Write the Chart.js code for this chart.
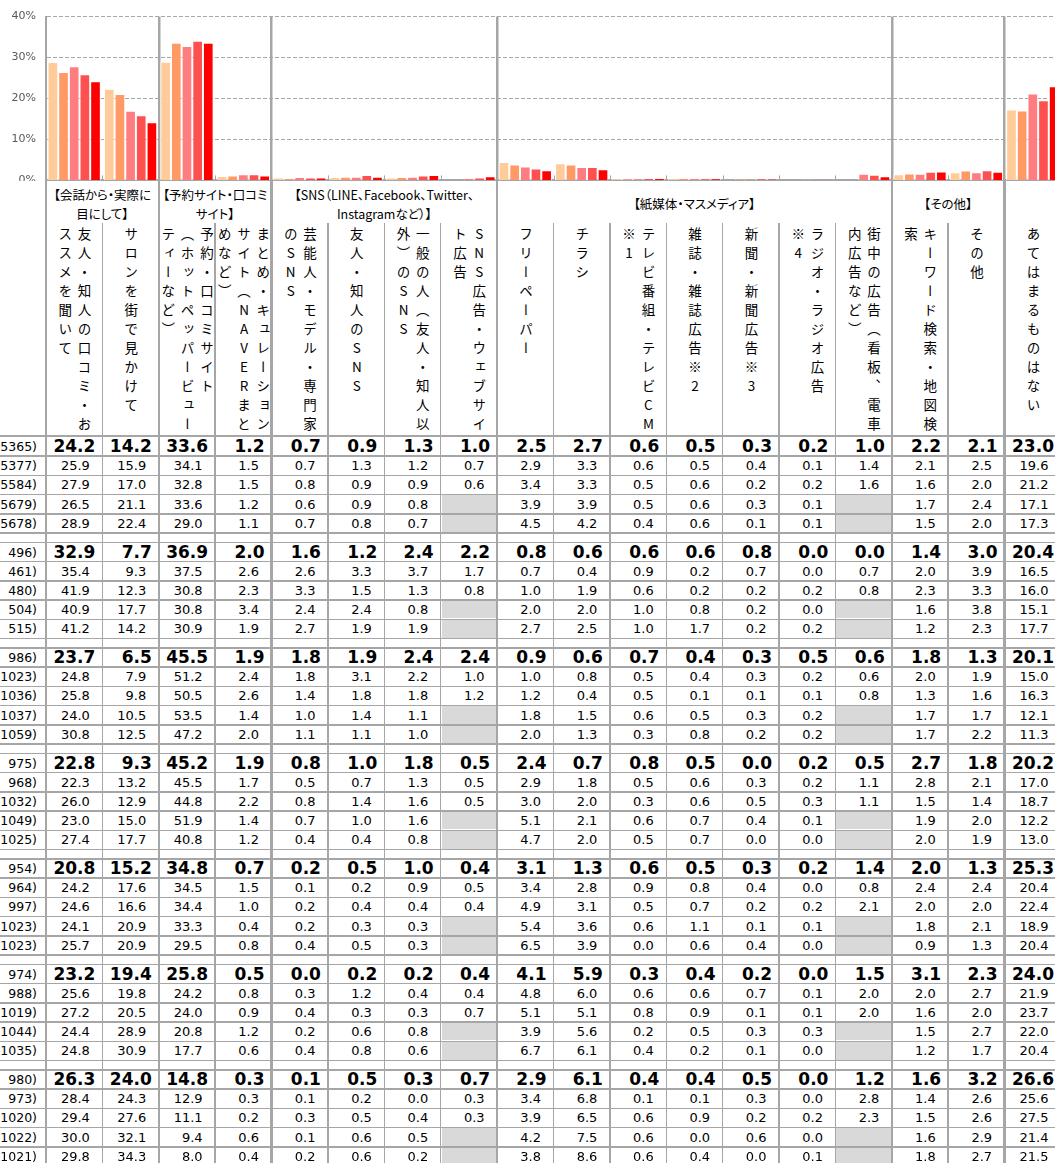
<!DOCTYPE html>
<html>
<head>
<meta charset="utf-8">
<script src="https://cdn.jsdelivr.net/npm/chart.js@4.4.0/dist/chart.umd.min.js"></script>
<style>
html,body{margin:0;padding:0;background:#fff;overflow:hidden;width:1055px;height:1163px;}
#chartWrap{position:absolute;left:0;top:0;}
#tbl{position:absolute;left:0;top:0;width:1070px;height:1163px;pointer-events:none;}
#tbl div{position:absolute;}
.ln{background:#A6A6A6;}
.gray{background:#D9D9D9;}
.vt{writing-mode:vertical-rl;text-orientation:upright;white-space:pre;font-family:"Noto Sans CJK JP";font-size:13.5px;line-height:19.3px;letter-spacing:5.5px;color:#000;transform:translateX(-50%);}
.gh{font-family:"Noto Sans CJK JP";font-size:12.5px;line-height:19px;color:#000;text-align:center;white-space:pre;font-feature-settings:"palt";}
.num{font-family:"DejaVu Sans";font-size:13px;color:#000;text-align:right;white-space:nowrap;}
.num.b{font-weight:bold;font-size:17px;}
.lab{font-family:"DejaVu Sans";font-size:12.5px;color:#000;text-align:right;white-space:pre;}
</style>
</head>
<body>
<div id="chartWrap"><canvas id="c" width="1062" height="197"></canvas></div>
<div id="tbl"></div>
<script>
// ---------- categories ----------
const categories = [
  '友人・知人の口コミ・おススメを聞いて','サロンを街で見かけて',
  '予約・口コミサイト（ホットペッパービューティーなど）','まとめ・キュレーションサイト（NAVERまとめなど）',
  '芸能人・モデル・専門家のSNS','友人・知人のSNS','一般の人（友人・知人以外）のSNS','SNS広告・ウェブサイト広告',
  'フリーペーパー','チラシ','テレビ番組・テレビCM※1','雑誌・雑誌広告※2','新聞・新聞広告※3','ラジオ・ラジオ広告※4',
  '街中の広告（看板、電車内広告など）','キーワード検索・地図検索','その他','あてはまるものはない'
];
// header text as displayed (vertical columns, right to left)
const headerColumns = [
  ['友人・知人の口コミ・お','ススメを聞いて'],
  ['サロンを街で見かけて'],
  ['予約・口コミサイト','（ホットペッパービュー','ティーなど）'],
  ['まとめ・キュレーション','サイト（NAVERまと','めなど）'],
  ['芸能人・モデル・専門家','のSNS'],
  ['友人・知人のSNS'],
  ['一般の人（友人・知人以','外）のSNS'],
  ['SNS広告・ウェブサイ','ト広告'],
  ['フリーペーパー'],
  ['チラシ'],
  ['テレビ番組・テレビCM','※1'],
  ['雑誌・雑誌広告※2'],
  ['新聞・新聞広告※3'],
  ['ラジオ・ラジオ広告','※4'],
  ['街中の広告（看板、電車','内広告など）'],
  ['キーワード検索・地図検','索'],
  ['その他'],
  ['あてはまるものはない']
];
const groupNames = [
  '【会話から・実際に\n目にして】',
  '【予約サイト・口コミ\nサイト】',
  '【SNS（LINE、Facebook、Twitter、\nInstagramなど）】',
  '【紙媒体・マスメディア】',
  '【その他】',
  ''
];
const groupStarts = [0,2,4,8,15,17,18];

// ---------- table data (7 blocks x 5 rows) ----------
const nA = [5365,5377,5584,5679,5678];
const rowsA = [
  [24.2,14.2,33.6,1.2,0.7,0.9,1.3,1.0,2.5,2.7,0.6,0.5,0.3,0.2,1.0,2.2,2.1,23.0],
  [25.9,15.9,34.1,1.5,0.7,1.3,1.2,0.7,2.9,3.3,0.6,0.5,0.4,0.1,1.4,2.1,2.5,19.6],
  [27.9,17.0,32.8,1.5,0.8,0.9,0.9,0.6,3.4,3.3,0.5,0.6,0.2,0.2,1.6,1.6,2.0,21.2],
  [26.5,21.1,33.6,1.2,0.6,0.9,0.8,null,3.9,3.9,0.5,0.6,0.3,0.1,null,1.7,2.4,17.1],
  [28.9,22.4,29.0,1.1,0.7,0.8,0.7,null,4.5,4.2,0.4,0.6,0.1,0.1,null,1.5,2.0,17.3]
];
const nB = [496,461,480,504,515];
const rowsB = [
  [32.9,7.7,36.9,2.0,1.6,1.2,2.4,2.2,0.8,0.6,0.6,0.6,0.8,0.0,0.0,1.4,3.0,20.4],
  [35.4,9.3,37.5,2.6,2.6,3.3,3.7,1.7,0.7,0.4,0.9,0.2,0.7,0.0,0.7,2.0,3.9,16.5],
  [41.9,12.3,30.8,2.3,3.3,1.5,1.3,0.8,1.0,1.9,0.6,0.2,0.2,0.2,0.8,2.3,3.3,16.0],
  [40.9,17.7,30.8,3.4,2.4,2.4,0.8,null,2.0,2.0,1.0,0.8,0.2,0.0,null,1.6,3.8,15.1],
  [41.2,14.2,30.9,1.9,2.7,1.9,1.9,null,2.7,2.5,1.0,1.7,0.2,0.2,null,1.2,2.3,17.7]
];
const nC = [986,1023,1036,1037,1059];
const rowsC = [
  [23.7,6.5,45.5,1.9,1.8,1.9,2.4,2.4,0.9,0.6,0.7,0.4,0.3,0.5,0.6,1.8,1.3,20.1],
  [24.8,7.9,51.2,2.4,1.8,3.1,2.2,1.0,1.0,0.8,0.5,0.4,0.3,0.2,0.6,2.0,1.9,15.0],
  [25.8,9.8,50.5,2.6,1.4,1.8,1.8,1.2,1.2,0.4,0.5,0.1,0.1,0.1,0.8,1.3,1.6,16.3],
  [24.0,10.5,53.5,1.4,1.0,1.4,1.1,null,1.8,1.5,0.6,0.5,0.3,0.2,null,1.7,1.7,12.1],
  [30.8,12.5,47.2,2.0,1.1,1.1,1.0,null,2.0,1.3,0.3,0.8,0.2,0.2,null,1.7,2.2,11.3]
];
const nD = [975,968,1032,1049,1025];
const rowsD = [
  [22.8,9.3,45.2,1.9,0.8,1.0,1.8,0.5,2.4,0.7,0.8,0.5,0.0,0.2,0.5,2.7,1.8,20.2],
  [22.3,13.2,45.5,1.7,0.5,0.7,1.3,0.5,2.9,1.8,0.5,0.6,0.3,0.2,1.1,2.8,2.1,17.0],
  [26.0,12.9,44.8,2.2,0.8,1.4,1.6,0.5,3.0,2.0,0.3,0.6,0.5,0.3,1.1,1.5,1.4,18.7],
  [23.0,15.0,51.9,1.4,0.7,1.0,1.6,null,5.1,2.1,0.6,0.7,0.4,0.1,null,1.9,2.0,12.2],
  [27.4,17.7,40.8,1.2,0.4,0.4,0.8,null,4.7,2.0,0.5,0.7,0.0,0.0,null,2.0,1.9,13.0]
];
const nE = [954,964,997,1023,1023];
const rowsE = [
  [20.8,15.2,34.8,0.7,0.2,0.5,1.0,0.4,3.1,1.3,0.6,0.5,0.3,0.2,1.4,2.0,1.3,25.3],
  [24.2,17.6,34.5,1.5,0.1,0.2,0.9,0.5,3.4,2.8,0.9,0.8,0.4,0.0,0.8,2.4,2.4,20.4],
  [24.6,16.6,34.4,1.0,0.2,0.4,0.4,0.4,4.9,3.1,0.5,0.7,0.2,0.2,2.1,2.0,2.0,22.4],
  [24.1,20.9,33.3,0.4,0.2,0.3,0.3,null,5.4,3.6,0.6,1.1,0.1,0.1,null,1.8,2.1,18.9],
  [25.7,20.9,29.5,0.8,0.4,0.5,0.3,null,6.5,3.9,0.0,0.6,0.4,0.0,null,0.9,1.3,20.4]
];
const nF = [974,988,1019,1044,1035];
const rowsF = [
  [23.2,19.4,25.8,0.5,0.0,0.2,0.2,0.4,4.1,5.9,0.3,0.4,0.2,0.0,1.5,3.1,2.3,24.0],
  [25.6,19.8,24.2,0.8,0.3,1.2,0.4,0.4,4.8,6.0,0.6,0.6,0.7,0.1,2.0,2.0,2.7,21.9],
  [27.2,20.5,24.0,0.9,0.4,0.3,0.3,0.7,5.1,5.1,0.8,0.9,0.1,0.1,2.0,1.6,2.0,23.7],
  [24.4,28.9,20.8,1.2,0.2,0.6,0.8,null,3.9,5.6,0.2,0.5,0.3,0.3,null,1.5,2.7,22.0],
  [24.8,30.9,17.7,0.6,0.4,0.8,0.6,null,6.7,6.1,0.4,0.2,0.1,0.0,null,1.2,1.7,20.4]
];
const nG = [980,973,1020,1022,1021];
const rowsG = [
  [26.3,24.0,14.8,0.3,0.1,0.5,0.3,0.7,2.9,6.1,0.4,0.4,0.5,0.0,1.2,1.6,3.2,26.6],
  [28.4,24.3,12.9,0.3,0.1,0.2,0.0,0.3,3.4,6.8,0.1,0.1,0.3,0.0,2.8,1.4,2.6,25.6],
  [29.4,27.6,11.1,0.2,0.3,0.5,0.4,0.3,3.9,6.5,0.6,0.9,0.2,0.2,2.3,1.5,2.6,27.5],
  [30.0,32.1,9.4,0.6,0.1,0.6,0.5,null,4.2,7.5,0.6,0.0,0.6,0.0,null,1.6,2.9,21.4],
  [29.8,34.3,8.0,0.4,0.2,0.6,0.2,null,3.8,8.6,0.6,0.4,0.0,0.1,null,1.8,2.7,21.5]
];
const blocks = [[nA,rowsA],[nB,rowsB],[nC,rowsC],[nD,rowsD],[nE,rowsE],[nF,rowsF],[nG,rowsG]];

// chart series: rows of block A, oldest first
const seriesColors = ['#FFCC99','#FF9966','#FF7C80','#FF5050','#FF0000'];
const seriesRowOrder = [4,3,2,1,0];

// ---------- chart ----------
Chart.defaults.font.family = 'DejaVu Sans';
const isGroupEdge = i => groupStarts.indexOf(i) > 0 && i < categories.length;

const boundaryTicks = {
  id: 'boundaryTicks',
  afterDatasetsDraw(chart) {
    const xs = chart.scales.x, ctx = chart.ctx, b = chart.chartArea.bottom;
    const w = (xs.right - xs.left) / categories.length;
    ctx.save();
    ctx.strokeStyle = '#A6A6A6'; ctx.lineWidth = 1;
    for (let i = 1; i < categories.length; i++) {
      if (groupStarts.includes(i)) continue;
      const x = Math.round(xs.left + i * w) + 0.5;
      ctx.beginPath(); ctx.moveTo(x, b - 5); ctx.lineTo(x, b); ctx.stroke();
    }
    ctx.restore();
  }
};

const chart = new Chart(document.getElementById('c'), {
  type: 'bar',
  data: {
    labels: categories,
    datasets: seriesRowOrder.map((r, k) => ({
      label: '(n=' + nA[r] + ')',
      data: rowsA[r],
      backgroundColor: seriesColors[k],
      borderColor: '#FFFFFF',
      borderWidth: 1,
      barPercentage: 1.0,
      categoryPercentage: 0.945
    }))
  },
  options: {
    responsive: false,
    animation: false,
    events: [],
    layout: { padding: { top: 15, right: 1, bottom: 3, left: 0 } },
    plugins: { legend: { display: false }, tooltip: { enabled: false } },
    scales: {
      x: {
        ticks: { display: false },
        grid: {
          offset: true, drawTicks: false,
          color: c => isGroupEdge(c.index) ? '#A6A6A6' : 'rgba(0,0,0,0)',
          lineWidth: c => isGroupEdge(c.index) ? 2.5 : 1
        },
        border: { display: true, color: '#A6A6A6', width: 2 }
      },
      y: {
        min: 0, max: 40,
        afterFit(s) { s.width = 46; },
        ticks: { stepSize: 10, callback: v => v + '%', padding: 10, color: '#595959', font: { size: 11 } },
        grid: { drawTicks: false, color: c => (c.tick && c.tick.value === 0) ? 'rgba(0,0,0,0)' : '#A6A6A6', lineWidth: 1 },
        border: { display: true, color: '#A6A6A6', width: 2, dash: [4, 2] }
      }
    }
  },
  plugins: [boundaryTicks]
});

// ---------- table ----------
const tbl = document.getElementById('tbl');
function box(cls, css, text) {
  const d = document.createElement('div');
  if (cls) d.className = cls;
  for (const k in css) d.style[k] = (typeof css[k] === 'number') ? css[k] + 'px' : css[k];
  if (text != null) d.textContent = text;
  tbl.appendChild(d);
  return d;
}
const xs = chart.scales.x;
const nCol = categories.length;
const colW = (xs.right - xs.left) / nCol;
const edge = i => xs.left + i * colW;
const HEAD_TOP = chart.chartArea.bottom;
const SUB_TOP = 223;
const BODY_TOP = 437;
const ROW_H = 19.2;
const GAP_H = 9.5;
const BOTTOM = 1163;
const RIGHT = edge(nCol);

// white backdrop below the plot so the table area is clean
box('', { left: 0, top: HEAD_TOP + 1, width: RIGHT + 5, height: BOTTOM - HEAD_TOP, background: '#fff' });

// group headers
for (let g = 0; g < groupNames.length; g++) {
  const a = edge(groupStarts[g]), b = edge(groupStarts[g + 1]);
  const txt = groupNames[g];
  if (!txt) continue;
  const lines = txt.split('\n').length;
  const top = lines === 2 ? 184.5 : 194;
  box('gh', { left: a, top: top, width: b - a }, txt);
}
// vertical header texts
for (let i = 0; i < nCol; i++) {
  box('vt', { left: edge(i) + colW / 2, top: 227 }, headerColumns[i].join('\n'));
}
// gray blank cells + numbers + labels
blocks.forEach(([ns, rows], b) => {
  const bTop = BODY_TOP + b * (5 * ROW_H + GAP_H);
  rows.forEach((vals, r) => {
    const top = bTop + r * ROW_H;
    box('lab', { left: 0, width: 37, top: top, height: ROW_H, lineHeight: ROW_H + 'px' }, ns[r] + ')');
    vals.forEach((v, i) => {
      if (v === null) {
        box('gray', { left: edge(i) + 1, top: top + 0.8, width: colW - 2, height: ROW_H - 1.6 });
      } else {
        const pad = r === 0 ? 7 : 12.5;
        box('num' + (r === 0 ? ' b' : ''), { left: edge(i), width: colW - pad, top: top, height: ROW_H, lineHeight: ROW_H + 'px' }, v.toFixed(1));
      }
    });
  });
  // horizontal lines
  for (let k = 1; k <= 5; k++) {
    box('ln', { left: 0, top: bTop + k * ROW_H - 0.75, width: RIGHT, height: 1.5 });
  }
  if (b > 0) box('ln', { left: 0, top: bTop - 0.75, width: RIGHT, height: 1.5 });
});
// header bottom line
box('ln', { left: 0, top: BODY_TOP - 2.2, width: RIGHT, height: 2.2 });
// vertical lines
for (let i = 0; i <= nCol; i++) {
  const thick = groupStarts.includes(i);
  const w = thick ? 2.5 : 1.5;
  box('ln', { left: edge(i) - w / 2, top: thick ? HEAD_TOP : SUB_TOP, width: w, height: BOTTOM - (thick ? HEAD_TOP : SUB_TOP) });
}
</script>
</body>
</html>
